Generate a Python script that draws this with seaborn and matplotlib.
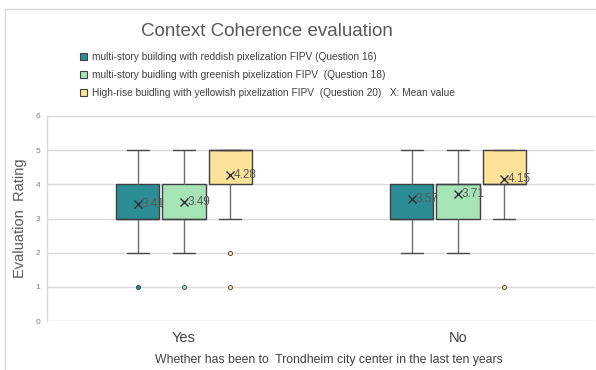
import numpy as np
import pandas as pd
import seaborn as sns
import matplotlib.pyplot as plt
from matplotlib.patches import Patch
from matplotlib.lines import Line2D

# Survey responses: number of answers per rating (1..5)
ratings = [1, 2, 3, 4, 5]
groups = ["Yes", "No"]
questions = [
    "multi-story building with reddish pixelization FIPV (Question 16)",
    "multi-story buidling with greenish pixelization FIPV  (Question 18)",
    "High-rise buidling with yellowish pixelization FIPV  (Question 20)",
]
yes_q16 = [1, 5, 17, 9, 7]
yes_q18 = [1, 4, 16, 11, 7]
yes_q20 = [1, 1, 4, 13, 20]
no_q16 = [0, 3, 12, 7, 6]
no_q18 = [0, 2, 10, 10, 6]
no_q20 = [1, 0, 3, 13, 10]

counts = {
    ("Yes", questions[0]): yes_q16,
    ("Yes", questions[1]): yes_q18,
    ("Yes", questions[2]): yes_q20,
    ("No", questions[0]): no_q16,
    ("No", questions[1]): no_q18,
    ("No", questions[2]): no_q20,
}

rows = []
for (grp, q), cnt in counts.items():
    for r, c in zip(ratings, cnt):
        rows += [(grp, q, r)] * c
df = pd.DataFrame(rows, columns=["group", "question", "rating"])

colors = ["#2b8c94", "#a6e3b6", "#fde399"]
legend_labels = [questions[0], questions[1], questions[2] + "   X: Mean value"]

sns.set_theme(style="white")
plt.rcParams["font.family"] = ["Liberation Sans", "DejaVu Sans"]

W, H = 596, 370
fig = plt.figure(figsize=(W / 100, H / 100), dpi=100)
ax = fig.add_axes([47 / W, 1 - 321 / H, 548 / W, 205 / H])

box_width = 0.504
sns.boxplot(
    data=df, x="group", y="rating", hue="question",
    order=groups, hue_order=questions, palette=colors, saturation=1,
    width=box_width, gap=0.065, whis=1.5,
    linewidth=1.0, linecolor="#404040",
    showmeans=True,
    meanprops=dict(marker="x", markeredgecolor="#303030", markersize=5.5, markeredgewidth=1.0),
    whiskerprops=dict(color="#6e6e6e"),
    capprops=dict(color="#4a4a4a"),
    flierprops=dict(marker="o", markersize=3.0, markeredgecolor="#404040", markeredgewidth=0.6),
    legend=False, ax=ax,
)

# Layer each series above the previous one, with its mean labels in between
means = df.groupby(["group", "question"])["rating"].mean()
slot = box_width / len(questions)
for j, cont in enumerate(ax.containers):
    z = 2 + 2 * j
    for art in list(cont.boxes) + list(cont.whiskers) + list(cont.caps) + list(cont.medians):
        art.set_zorder(z)
    for fl in cont.fliers:
        fl.set_markerfacecolor(colors[j])
        fl.set_zorder(z)
    for mn in cont.means:
        mn.set_zorder(z + 0.5)
    for i, grp in enumerate(groups):
        m = means[(grp, questions[j])]
        xpos = i + (j - 1) * slot
        ax.text(xpos + 0.012, m, f"{m:.2f}", ha="left", va="center",
                fontsize=8.5, color="#595959", zorder=z + 1)

ax.set_ylim(0, 6)
ax.set_yticks(range(0, 7))
ax.set_xlim(-0.5, 1.5)
ax.yaxis.grid(True, color="#d9d9d9", linewidth=1.0)
ax.set_axisbelow(True)
for s in ["top", "right", "bottom"]:
    ax.spines[s].set_visible(False)
ax.spines["left"].set_color("#d9d9d9")
ax.spines["left"].set_linewidth(1.0)

ax.tick_params(axis="both", length=0)
ax.tick_params(axis="x", labelsize=10.5, labelcolor="#404040", pad=7)
ax.tick_params(axis="y", labelsize=6, labelcolor="#808080", pad=5)

ax.set_ylabel("Evaluation  Rating", fontsize=10.5, color="#595959")
ax.yaxis.set_label_coords(-0.037, 0.5)
ax.set_xlabel("Whether has been to  Trondheim city center in the last ten years",
              fontsize=8.8, color="#404040")
ax.xaxis.set_label_coords(0.5 + 8 / 548, -0.16)

fig.text(267 / W, 1 - 31 / H, "Context Coherence evaluation", ha="center", va="center",
         fontsize=13.5, color="#595959")

handles = [Patch(facecolor=c, edgecolor="#404040", linewidth=0.8) for c in colors]
fig.legend(handles, legend_labels, loc="upper left", bbox_to_anchor=(80 / W, 1 - 52 / H),
           frameon=False, fontsize=7.3, handlelength=0.7, handleheight=0.7,
           handletextpad=0.5, labelspacing=0.8, borderaxespad=0, borderpad=0,
           labelcolor="#404040")

# chart area border
fig.add_artist(Line2D([5 / W, 5 / W], [0, 1 - 9 / H], color="#d9d9d9", linewidth=1.0))
fig.add_artist(Line2D([5 / W, 1], [1 - 9 / H, 1 - 9 / H], color="#d9d9d9", linewidth=1.0))

fig.savefig("out.png", dpi=100)
